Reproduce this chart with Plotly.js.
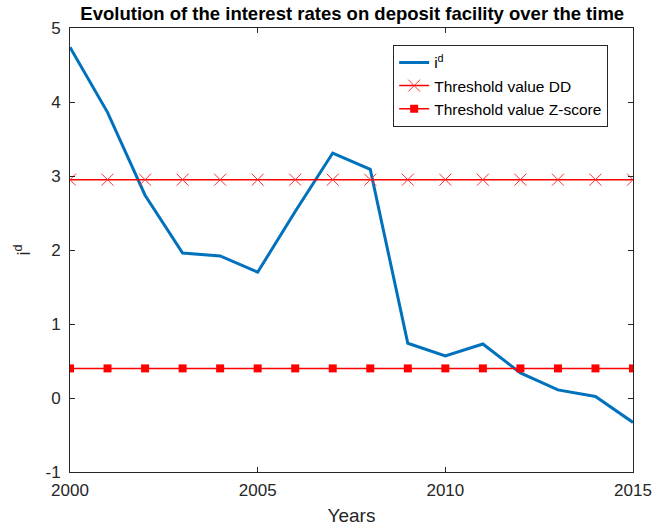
<!DOCTYPE html>
<html>
<head>
<meta charset="utf-8">
<script src="https://cdn.plot.ly/plotly-3.0.1.min.js"></script>
<style>html,body{margin:0;padding:0;background:#fff;}#chart{width:656px;height:530px;}</style>
</head>
<body>
<div id="chart"></div>
<script>
const years = [2000,2001,2002,2003,2004,2005,2006,2007,2008,2009,2010,2011,2012,2013,2014,2015];
const rateId = [4.74,3.86,2.74,1.96,1.92,1.70,2.52,3.31,3.09,0.74,0.57,0.73,0.34,0.11,0.02,-0.33];
const thresholdDD = 2.95;
const thresholdZ = 0.40;
const xTicks = [2000,2005,2010,2015];
const yTicks = [-1,0,1,2,3,4,5];

const ddVals = years.map(() => thresholdDD);
const zVals = years.map(() => thresholdZ);

const axisColor = '#262626';
const font = {family: 'Liberation Sans, Arial, sans-serif', size: 17, color: '#262626'};

const data = [
  {x: years, y: rateId, mode: 'lines', name: 'i<sup>d</sup>',
   line: {color: '#0072BD', width: 3}},
  {x: years, y: ddVals, mode: 'lines+markers', name: 'Threshold value DD',
   line: {color: '#FF0000', width: 1.5},
   marker: {symbol: 'x-thin', size: 12, line: {color: '#FF3030', width: 1}, color: '#FF0000'}},
  {x: years, y: zVals, mode: 'lines+markers', name: 'Threshold value Z-score',
   line: {color: '#FF0000', width: 1.5},
   marker: {symbol: 'square', size: 8, color: '#FF0000'}}
];

const layout = {
  width: 656, height: 530,
  margin: {l: 70, r: 23, t: 28, b: 58},
  paper_bgcolor: '#fff', plot_bgcolor: '#fff',
  font: font,
  showlegend: true,
  title: {text: '<b>Evolution of the interest rates on deposit facility over the time</b>',
          font: {family: 'Liberation Sans, Arial, sans-serif', size: 18.5, color: '#000'},
          x: 0.537, xanchor: 'center', y: 0.974, yanchor: 'middle'},
  xaxis: {range: [2000, 2015], tickvals: xTicks, ticktext: xTicks.map(String),
          ticks: 'inside', ticklen: 5, tickcolor: axisColor, showline: true, linecolor: axisColor,
          linewidth: 1, mirror: 'ticks', showgrid: false, zeroline: false,
          ticklabelstandoff: 3,
          tickfont: {size: 17}, title: {text: 'Years', font: {size: 19}, standoff: 9}},
  yaxis: {range: [-1, 5], tickvals: yTicks, ticktext: yTicks.map(String),
          ticks: 'inside', ticklen: 5, tickcolor: axisColor, showline: true, linecolor: axisColor,
          linewidth: 1, mirror: 'ticks', showgrid: false, zeroline: false,
          ticklabelstandoff: 5,
          tickfont: {size: 17}, title: {text: 'i<sup>d</sup>', font: {size: 18}, standoff: 10}},
  legend: {x: 0.574, y: 0.962, xanchor: 'left', yanchor: 'top',
           bgcolor: '#fff', bordercolor: axisColor, borderwidth: 1,
           font: {size: 15.5, color: '#000'}, tracegroupgap: 0, itemwidth: 30}
};

Plotly.newPlot('chart', data, layout, {displayModeBar: false, staticPlot: true});
</script>
</body>
</html>
